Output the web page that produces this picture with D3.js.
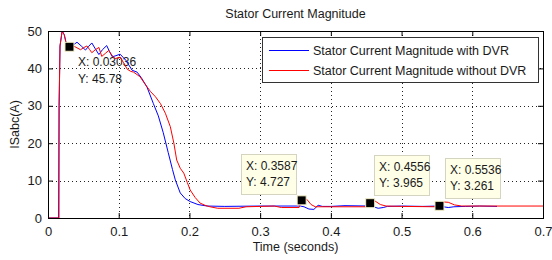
<!DOCTYPE html>
<html>
<head>
<meta charset="utf-8">
<script src="https://cdn.jsdelivr.net/npm/d3@7"></script>
<style>
    body { margin: 0; background: #ffffff; }
    svg text { font-family: "Liberation Sans", Arial, sans-serif; fill: #1a1a1a; }
</style>
</head>
<body>
<div id="chart"></div>
<script>
// time axis (seconds) and current (A) for the two runs
var timeWithDvr = [0, 0.0150, 0.0157, 0.017, 0.020, 0.023, 0.026, 0.0304, 0.036, 0.041, 0.047, 0.053, 0.057, 0.062, 0.067, 0.072, 0.077, 0.083, 0.087, 0.091, 0.096, 0.102, 0.106, 0.110, 0.114, 0.119, 0.126, 0.132, 0.140, 0.149, 0.156, 0.163, 0.170, 0.176, 0.180, 0.187, 0.194, 0.201, 0.212, 0.225, 0.250, 0.300, 0.357, 0.362, 0.369, 0.376, 0.382, 0.388, 0.400, 0.420, 0.454, 0.460, 0.467, 0.474, 0.480, 0.500, 0.530, 0.553, 0.559, 0.566, 0.574, 0.590, 0.610, 0.635];
var currentWithDvr = [0, 0, 30, 46, 50, 49, 46.5, 45.8, 46.3, 47.0, 46.0, 44.9, 45.8, 46.8, 45.2, 43.7, 45.0, 46.1, 44.5, 43.1, 43.4, 43.8, 43.0, 42.2, 41.0, 39.5, 39.0, 37.5, 35.0, 30.6, 27.3, 22.8, 17.5, 13.0, 10.2, 6.7, 5.2, 4.4, 3.6, 3.2, 3.1, 3.2, 3.2, 3.0, 2.4, 2.3, 3.4, 3.1, 3.1, 3.3, 3.2, 3.0, 2.6, 2.8, 3.1, 3.2, 3.1, 3.2, 3.0, 2.8, 3.0, 3.1, 3.2, 3.1];

var timeNoDvr = [0, 0.0155, 0.0157, 0.017, 0.020, 0.023, 0.026, 0.0304, 0.036, 0.041, 0.046, 0.051, 0.055, 0.059, 0.062, 0.067, 0.072, 0.076, 0.081, 0.086, 0.090, 0.095, 0.102, 0.107, 0.112, 0.117, 0.121, 0.130, 0.138, 0.145, 0.152, 0.159, 0.166, 0.173, 0.178, 0.182, 0.187, 0.192, 0.197, 0.201, 0.208, 0.215, 0.222, 0.229, 0.240, 0.270, 0.280, 0.300, 0.320, 0.330, 0.355, 0.3587, 0.366, 0.372, 0.378, 0.400, 0.450, 0.4556, 0.462, 0.470, 0.478, 0.500, 0.550, 0.5536, 0.558, 0.566, 0.575, 0.585, 0.700];
var currentNoDvr = [0, 0, 30, 46, 50, 49, 46.5, 45.78, 46.0, 45.5, 45.0, 45.6, 46.0, 45.0, 44.2, 45.0, 45.6, 43.2, 44.0, 44.8, 43.6, 42.6, 43.0, 41.5, 39.8, 39.2, 39.0, 37.8, 35.6, 33.8, 32.4, 30.6, 28.0, 24.4, 20.0, 15.5, 13.3, 12.0, 9.5, 7.5, 5.5, 4.0, 3.4, 3.0, 2.6, 2.6, 3.0, 3.1, 3.2, 2.8, 2.8, 4.727, 5.0, 3.6, 3.0, 3.0, 3.0, 3.965, 4.6, 3.6, 3.2, 3.1, 3.0, 3.261, 4.3, 4.2, 3.5, 3.2, 3.2];

// data cursor points
var tipX = [0.03036, 0.3587, 0.4556, 0.5536];
var tipY = [45.78, 4.727, 3.965, 3.261];

var xTicks = [0, 0.1, 0.2, 0.3, 0.4, 0.5, 0.6, 0.7];
var yTicks = [0, 10, 20, 30, 40, 50];

var seriesNames = ["Stator Current Magnitude with DVR", "Stator Current Magnitude without DVR"];
var seriesColors = ["#0000ff", "#ff0000"];

(function () {

    makeChart();

    function makeChart() {

        var width = 552, height = 260;
        var plot = { left: 48, right: 543, top: 31, bottom: 218 };

        var svg = d3.select("#chart").append("svg")
            .attr("width", width)
            .attr("height", height);

        var x = d3.scaleLinear().domain([0, 0.7]).range([plot.left, plot.right]);
        var y = d3.scaleLinear().domain([0, 50]).range([plot.bottom, plot.top]);

        // dotted grid
        svg.append("g").selectAll("line")
            .data(xTicks.slice(1, -1))
            .enter().append("line")
            .attr("x1", function (d) { return Math.round(x(d)) + 0.5; })
            .attr("x2", function (d) { return Math.round(x(d)) + 0.5; })
            .attr("y1", plot.top)
            .attr("y2", plot.bottom)
            .attr("stroke", "#222")
            .attr("stroke-dasharray", "1,3");

        svg.append("g").selectAll("line")
            .data(yTicks.slice(1, -1))
            .enter().append("line")
            .attr("y1", function (d) { return Math.round(y(d)) + 0.5; })
            .attr("y2", function (d) { return Math.round(y(d)) + 0.5; })
            .attr("x1", plot.left)
            .attr("x2", plot.right)
            .attr("stroke", "#222")
            .attr("stroke-dasharray", "1,3");

        // axes, ticks pointing in, on all four sides
        var tickLen = 5;
        var xAxisB = d3.axisBottom(x).tickValues(xTicks).tickSize(-tickLen).tickPadding(9)
            .tickFormat(function (d) { return d === 0 ? "0" : d3.format(".1f")(d); });
        var xAxisT = d3.axisTop(x).tickValues(xTicks).tickSize(-tickLen).tickFormat("");
        var yAxisL = d3.axisLeft(y).tickValues(yTicks).tickSize(-tickLen).tickPadding(6);
        var yAxisR = d3.axisRight(y).tickValues(yTicks).tickSize(-tickLen).tickFormat("");

        function styleAxis(g) {
            g.select(".domain").remove();
            g.selectAll("line").attr("stroke", "#000");
            g.selectAll("text")
                .style("font-size", "13px")
                .style("font-family", "'Liberation Sans', Arial, sans-serif")
                .attr("fill", "#1a1a1a");
        }

        svg.append("g").attr("transform", "translate(0," + plot.bottom + ")").call(xAxisB).call(styleAxis);
        svg.append("g").attr("transform", "translate(0," + plot.top + ")").call(xAxisT).call(styleAxis);
        svg.append("g").attr("transform", "translate(" + plot.left + ",0)").call(yAxisL).call(styleAxis);
        svg.append("g").attr("transform", "translate(" + plot.right + ",0)").call(yAxisR).call(styleAxis);

        // first data tip label sits under the curves (no box)
        svg.append("text").attr("x", 78).attr("y", 66).style("font-size", "12px").text("X: 0.03036");
        svg.append("text").attr("x", 78).attr("y", 83).style("font-size", "12px").text("Y: 45.78");

        // curves
        var line = d3.line()
            .x(function (d) { return x(d[0]); })
            .y(function (d) { return y(d[1]); });

        var blueData = d3.zip(timeWithDvr, currentWithDvr);
        var redData = d3.zip(timeNoDvr, currentNoDvr);

        svg.append("path").datum(blueData)
            .attr("d", line).attr("fill", "none")
            .attr("stroke", seriesColors[0]).attr("stroke-width", 1);
        svg.append("path").datum(redData)
            .attr("d", line).attr("fill", "none")
            .attr("stroke", seriesColors[1]).attr("stroke-width", 1);

        // plot box
        svg.append("rect")
            .attr("x", plot.left + 0.5).attr("y", plot.top + 0.5)
            .attr("width", plot.right - plot.left).attr("height", plot.bottom - plot.top)
            .attr("fill", "none").attr("stroke", "#000");

        // data tip boxes (the first one has no box)
        var boxPos = [null, [241, 154], [374, 155], [445, 158]];
        for (var i = 1; i < tipX.length; i++) {
            var bx = boxPos[i][0], by = boxPos[i][1];
            svg.append("rect")
                .attr("x", bx + 0.5).attr("y", by + 0.5)
                .attr("width", 55).attr("height", 40)
                .attr("fill", "#ffffe8").attr("stroke", "#d4d4c0");
            svg.append("text").attr("x", bx + 5).attr("y", by + 16)
                .style("font-size", "12px").text("X: " + tipX[i]);
            svg.append("text").attr("x", bx + 5).attr("y", by + 32)
                .style("font-size", "12px").text("Y: " + tipY[i]);
        }

        // black markers with a pale border
        svg.append("g").selectAll("rect")
            .data(d3.zip(tipX, tipY))
            .enter().append("rect")
            .attr("x", function (d) { return x(d[0]) - 4.5; })
            .attr("y", function (d) { return y(d[1]) - 4.5; })
            .attr("width", 9).attr("height", 9)
            .attr("fill", "#000")
            .attr("stroke", "#f4f0c8").attr("stroke-width", 1);

        // legend
        var legend = svg.append("g");
        legend.append("rect")
            .attr("x", 262.5).attr("y", 37.5)
            .attr("width", 276).attr("height", 45)
            .attr("fill", "#fff").attr("stroke", "#333");
        seriesNames.forEach(function (name, k) {
            var ly = 50 + k * 20;
            legend.append("line")
                .attr("x1", 269).attr("x2", 309)
                .attr("y1", ly + 0.5).attr("y2", ly + 0.5)
                .attr("stroke", seriesColors[k]);
            legend.append("text")
                .attr("x", 313).attr("y", ly + 4.5)
                .style("font-size", "12.5px")
                .text(name);
        });

        // titles
        svg.append("text")
            .attr("x", (plot.left + plot.right) / 2).attr("y", 18)
            .attr("text-anchor", "middle").style("font-size", "12.5px")
            .text("Stator Current Magnitude");

        svg.append("text")
            .attr("x", (plot.left + plot.right) / 2).attr("y", 251)
            .attr("text-anchor", "middle").style("font-size", "12.5px")
            .text("Time (seconds)");

        svg.append("text")
            .attr("transform", "translate(19," + (plot.top + plot.bottom) / 2 + ") rotate(-90)")
            .attr("text-anchor", "middle").style("font-size", "12.5px")
            .text("ISabc(A)");
    }

})();
</script>
</body>
</html>
